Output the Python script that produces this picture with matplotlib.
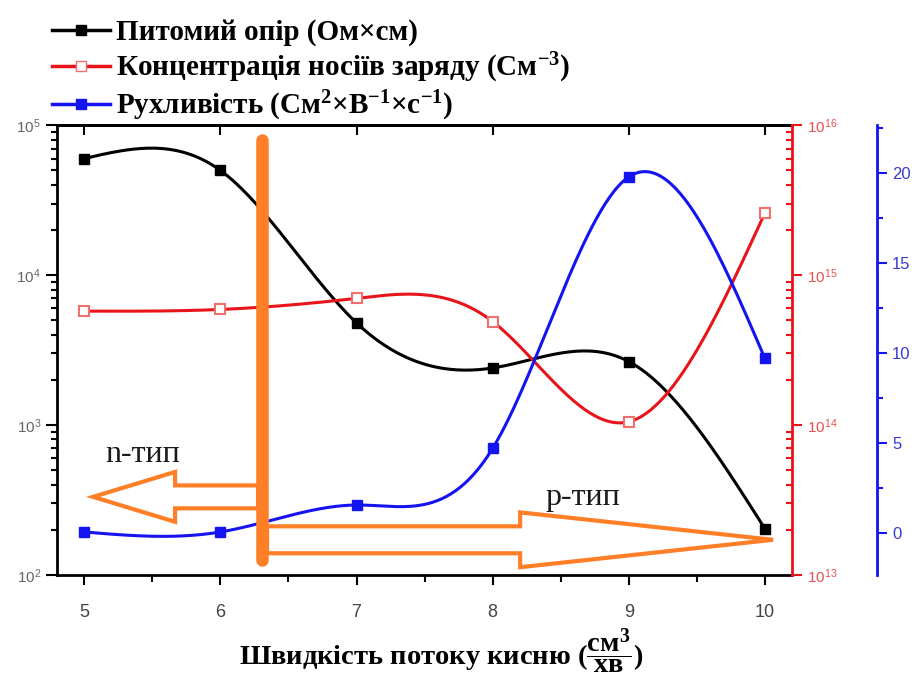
import matplotlib
matplotlib.use('Agg')
import matplotlib.pyplot as plt
import numpy as np
from matplotlib.lines import Line2D
from matplotlib.patches import FancyArrow
from matplotlib.ticker import LogLocator, MultipleLocator, NullFormatter

plt.rcParams['font.family'] = ['Liberation Sans', 'DejaVu Sans']
plt.rcParams['mathtext.fontset'] = 'custom'
plt.rcParams['mathtext.rm'] = 'Liberation Serif:bold'
plt.rcParams['mathtext.it'] = 'Liberation Serif:bold'
plt.rcParams['mathtext.bf'] = 'Liberation Serif:bold'

# oxygen flow rate
flow = [5, 6, 7, 8, 9, 10]
# resistivity, Ohm*cm
resistivity = [6.0e4, 5.0e4, 4.8e3, 2.4e3, 2.65e3, 2.03e2]
# carrier concentration, cm^-3
concentration = [5.75e14, 5.9e14, 7.0e14, 4.9e14, 1.05e14, 2.6e15]
# mobility, cm2/(V*s)
mobility = [0.05, 0.05, 1.55, 4.7, 19.8, 9.7]

labels = ['Питомий опір (Ом×см)',
          'Концентрація носіїв заряду (См$^{-3}$)',
          'Рухливість (См$^{2}$×В$^{-1}$×с$^{-1}$)']
xlabel = 'Швидкість потоку кисню ($\\dfrac{\\mathrm{см}^3}{\\mathrm{хв}}$)'

orange = '#ff7f27'
red = '#e8141a'
blue = '#1414f0'


def smooth(x, y, n=300):
    # natural cubic spline for the connecting line
    x = np.asarray(x, float)
    y = np.asarray(y, float)
    k = len(x)
    h = np.diff(x)
    A = np.zeros((k, k))
    b = np.zeros(k)
    A[0, 0] = A[-1, -1] = 1
    for i in range(1, k - 1):
        A[i, i - 1] = h[i - 1]
        A[i, i] = 2 * (h[i - 1] + h[i])
        A[i, i + 1] = h[i]
        b[i] = 6 * ((y[i + 1] - y[i]) / h[i] - (y[i] - y[i - 1]) / h[i - 1])
    M = np.linalg.solve(A, b)
    xs = np.linspace(x[0], x[-1], n)
    idx = np.clip(np.searchsorted(x, xs) - 1, 0, k - 2)
    x0, x1 = x[idx], x[idx + 1]
    hh = x1 - x0
    t0, t1 = x1 - xs, xs - x0
    ys = (M[idx] * t0 ** 3 + M[idx + 1] * t1 ** 3) / (6 * hh) \
        + (y[idx] / hh - M[idx] * hh / 6) * t0 \
        + (y[idx + 1] / hh - M[idx + 1] * hh / 6) * t1
    return xs, ys


fig = plt.figure(figsize=(9.2, 6.81), dpi=100)
ax = fig.add_axes([0.062, 0.156, 0.799, 0.660])
ax2 = ax.twinx()
ax3 = ax.twinx()
ax3.spines['right'].set_position(('outward', 61))

# resistivity (left, log)
xs, ys = smooth(flow, np.log10(resistivity))
ax.plot(xs, 10 ** ys, color='black', lw=2.2, zorder=3)
ax.plot(flow, resistivity, 's', color='black', ms=7, zorder=4)
ax.set_yscale('log')
ax.set_ylim(1e2, 1e5)
ax.set_xlim(4.8, 10.2)

# concentration (right, log)
xs, ys = smooth(flow, np.log10(concentration))
ax2.plot(xs, 10 ** ys, color=red, lw=2.2, zorder=3)
ax2.plot(flow, concentration, 's', mfc='white', mec='#f07070', mew=1.5, ms=7, zorder=4)
ax2.set_yscale('log')
ax2.set_ylim(1e13, 1e16)

# mobility (far right, linear)
xs, ys = smooth(flow, mobility)
ax3.plot(xs, ys, color=blue, lw=2.2, zorder=3)
ax3.plot(flow, mobility, 's', color=blue, ms=7, zorder=4)
ax3.set_ylim(-2.33, 22.67)

# axes styling
ax.spines['right'].set_visible(False)
ax.spines['left'].set_linewidth(2)
ax.spines['bottom'].set_linewidth(2)
ax.spines['top'].set_linewidth(2)
ax.xaxis.set_major_locator(MultipleLocator(1))
ax.xaxis.set_minor_locator(MultipleLocator(0.5))
ax.tick_params(axis='x', which='both', direction='out', width=1.5, labelsize=13,
               labelcolor='#444444', pad=14)
ax.tick_params(axis='x', which='major', length=7)
ax.tick_params(axis='x', which='minor', length=5)
ax.yaxis.set_major_locator(LogLocator(base=10, numticks=10))
ax.yaxis.set_minor_locator(LogLocator(base=10, subs=np.arange(2, 10), numticks=10))
ax.yaxis.set_minor_formatter(NullFormatter())
ax.tick_params(axis='y', which='both', direction='out', width=1.5, labelsize=11,
               labelcolor='#666666')
ax.tick_params(axis='y', which='major', length=8)
ax.tick_params(axis='y', which='minor', length=4)
top = ax.secondary_xaxis('top')
top.xaxis.set_major_locator(MultipleLocator(1))
top.tick_params(direction='in', length=7, width=1.5, labeltop=False)
top.spines['top'].set_linewidth(2)

for s in ['top', 'bottom', 'left']:
    ax2.spines[s].set_visible(False)
    ax3.spines[s].set_visible(False)
ax2.spines['right'].set_color(red)
ax2.spines['right'].set_linewidth(2)
ax2.yaxis.set_major_locator(LogLocator(base=10, numticks=10))
ax2.yaxis.set_minor_locator(LogLocator(base=10, subs=np.arange(2, 10), numticks=10))
ax2.yaxis.set_minor_formatter(NullFormatter())
ax2.tick_params(axis='y', which='major', direction='out', length=7, width=1.5,
                color=red, labelcolor='#e85050', labelsize=11)
ax2.tick_params(axis='y', which='minor', direction='in', length=4, width=1.5, color=red)

ax3.spines['right'].set_color(blue)
ax3.spines['right'].set_linewidth(2)
ax3.yaxis.set_major_locator(MultipleLocator(5))
ax3.yaxis.set_minor_locator(MultipleLocator(2.5))
ax3.tick_params(axis='y', which='major', direction='out', length=7, width=1.5,
                color=blue, labelcolor='#3a3ad0', labelsize=12, pad=4)
ax3.tick_params(axis='y', which='minor', direction='out', length=4, width=1.5, color=blue)

ax.set_xlabel(xlabel, fontsize=20.5, fontfamily='Liberation Serif', fontweight='bold')
ax.xaxis.set_label_coords(0.523, -0.115)

# n/p type annotations
tr = ax3.transAxes
ax3.add_patch(FancyArrow(0.2735, 0.1733, 0.049 - 0.2735, 0, width=0.051, head_width=0.111,
                         head_length=0.1116, length_includes_head=True, fill=False,
                         ec=orange, lw=3, transform=tr, zorder=6, clip_on=False))
ax3.add_patch(FancyArrow(0.2857, 0.0778, 0.974 - 0.2857, 0, width=0.06, head_width=0.122,
                         head_length=0.344, length_includes_head=True, fill=False,
                         ec=orange, lw=3, transform=tr, zorder=6, clip_on=False))
ax3.plot([0.279, 0.279], [0.967, 0.033], color=orange, lw=9, solid_capstyle='round',
         transform=tr, zorder=7, clip_on=False)
ax3.text(0.065, 0.267, 'n-тип', transform=tr, fontsize=23, fontfamily='Liberation Serif',
         color='#1a1a1a', va='center', ha='left', zorder=8)
ax3.text(0.664, 0.173, 'р-тип', transform=tr, fontsize=23, fontfamily='Liberation Serif',
         color='#1a1a1a', va='center', ha='left', zorder=8)

handles = [Line2D([], [], color='black', lw=2.5, marker='s', ms=7),
           Line2D([], [], color=red, lw=2.5, marker='s', ms=7, mfc='white', mec='#f07070'),
           Line2D([], [], color=blue, lw=2.5, marker='s', ms=7)]
fig.legend(handles, labels, loc='upper left', bbox_to_anchor=(0.036, 1.0), frameon=False,
           prop={'family': 'Liberation Serif', 'weight': 'bold', 'size': 21},
           handlelength=2.0, handletextpad=0.2, labelspacing=0.15, borderpad=0.15)

fig.savefig('out.png', dpi=100)
